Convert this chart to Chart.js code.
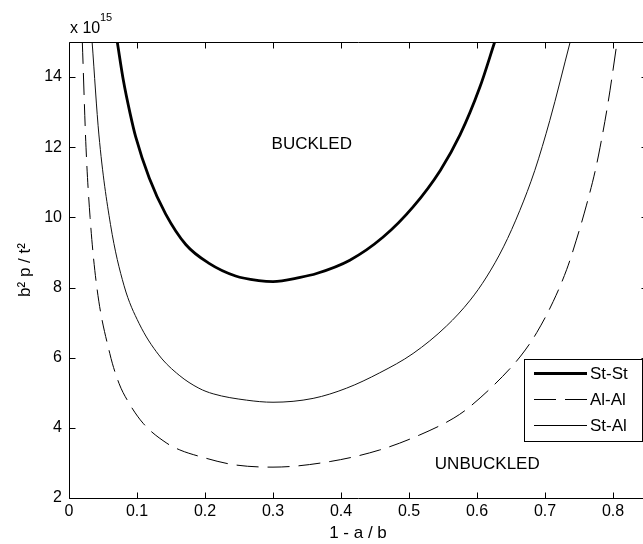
<!DOCTYPE html>
<html>
<head>
<meta charset="utf-8">
<script src="https://cdn.jsdelivr.net/npm/chart.js@4.4.1/dist/chart.umd.min.js"></script>
<style>
html,body{margin:0;padding:0;background:#fff;overflow:hidden}
#wrap{width:647px;height:544px}
</style>
</head>
<body>
<div id="wrap"><canvas id="chart"></canvas></div>
<script>

// axis ticks
const xTicks = [0, 0.1, 0.2, 0.3, 0.4, 0.5, 0.6, 0.7, 0.8];
const yTicks = [2, 4, 6, 8, 10, 12, 14];

// b^2 p / t^2 in units of 1e15, against 1 - a/b
const stStX = [0.071, 0.080, 0.090, 0.098, 0.118, 0.142, 0.172, 0.206, 0.245, 0.279, 0.300, 0.340, 0.364, 0.413, 0.462, 0.506, 0.546, 0.575, 0.604, 0.626];
const stStY = [15.0, 13.9, 12.95, 12.3, 11.12, 10.1, 9.22, 8.69, 8.33, 8.20, 8.17, 8.29, 8.40, 8.78, 9.44, 10.3, 11.34, 12.35, 13.7, 15.0];

const alAlX = [0.0196, 0.025, 0.031, 0.041, 0.060, 0.0735, 0.086, 0.109, 0.144, 0.163, 0.193, 0.242, 0.300, 0.384, 0.457, 0.516, 0.566, 0.590, 0.649, 0.671, 0.688, 0.712, 0.732, 0.746, 0.761, 0.774, 0.781, 0.793, 0.806];
const alAlY = [15.0, 12.0, 10.0, 8.0, 6.12, 5.27, 4.78, 4.13, 3.56, 3.37, 3.18, 2.95, 2.88, 3.04, 3.37, 3.80, 4.28, 4.61, 5.70, 6.22, 6.72, 7.60, 8.52, 9.35, 10.35, 11.34, 12.0, 13.3, 15.0];

const stAlX = [0.034, 0.044, 0.061, 0.081, 0.103, 0.132, 0.162, 0.191, 0.212, 0.261, 0.300, 0.359, 0.408, 0.457, 0.506, 0.555, 0.590, 0.614, 0.639, 0.663, 0.685, 0.707, 0.737];
const stAlY = [15.0, 12.35, 9.8, 8.05, 6.98, 6.08, 5.5, 5.13, 4.97, 4.79, 4.73, 4.84, 5.13, 5.57, 6.12, 6.90, 7.64, 8.30, 9.16, 10.2, 11.34, 12.76, 15.0];

const seriesNames = ['St-St', 'Al-Al', 'St-Al'];

function pts(xs, ys){
  return xs.map((x, i) => ({x: x, y: ys[i]}));
}

const FONT = 'Liberation Sans, Arial, Helvetica, sans-serif';

// box, inward ticks, text labels and the legend, matlab style
const frame = {
  id: 'frame',
  afterDatasetsDraw(chart){
    const {ctx, chartArea: a, scales: {x, y}} = chart;
    const L = Math.round(a.left) + 0.5, R = Math.round(a.right) + 0.5;
    const T = Math.round(a.top) + 0.5, B = Math.round(a.bottom) + 0.5;
    ctx.save();
    ctx.strokeStyle = '#000';
    ctx.lineWidth = 1;
    ctx.beginPath();
    ctx.rect(L, T, R - L, B - T);
    xTicks.forEach(v => {
      const p = Math.round(x.getPixelForValue(v)) + 0.5;
      ctx.moveTo(p, B); ctx.lineTo(p, B - 6);
      ctx.moveTo(p, T); ctx.lineTo(p, T + 6);
    });
    yTicks.forEach(v => {
      const p = Math.round(y.getPixelForValue(v)) + 0.5;
      ctx.moveTo(L, p); ctx.lineTo(L + 6, p);
      ctx.moveTo(R, p); ctx.lineTo(R - 6, p);
    });
    ctx.stroke();

    ctx.fillStyle = '#000';
    ctx.textBaseline = 'alphabetic';
    ctx.font = '16px ' + FONT;
    ctx.textAlign = 'left';
    ctx.fillText('x 10', 70, 33);
    ctx.font = '11px ' + FONT;
    ctx.fillText('15', 100, 21);

    ctx.font = '17px ' + FONT;
    ctx.textBaseline = 'middle';
    ctx.textAlign = 'center';
    ctx.fillText('BUCKLED', x.getPixelForValue(0.357), y.getPixelForValue(12.08));
    ctx.textAlign = 'left';
    ctx.fillText('UNBUCKLED', x.getPixelForValue(0.538), y.getPixelForValue(2.95));

    // legend
    ctx.fillStyle = '#fff';
    ctx.fillRect(524.5, 359.5, 118, 82);
    ctx.strokeRect(524.5, 359.5, 118, 82);
    ctx.font = '17px ' + FONT;
    ctx.fillStyle = '#000';
    chart.data.datasets.forEach((ds, i) => {
      const ly = 373 + i * 26;
      ctx.save();
      ctx.lineWidth = ds.borderWidth;
      ctx.setLineDash(ds.borderDash || []);
      ctx.beginPath();
      ctx.moveTo(534, ly + 0.5);
      ctx.lineTo(587, ly + 0.5);
      ctx.stroke();
      ctx.restore();
      ctx.fillText(ds.label, 590, ly + 1);
    });
    ctx.restore();
  }
};

const chart = new Chart(document.getElementById('chart'), {
  type: 'line',
  data: {
    datasets: [
      {label: seriesNames[0], data: pts(stStX, stStY), borderColor: '#000', borderWidth: 2.8},
      {label: seriesNames[1], data: pts(alAlX, alAlY), borderColor: '#000', borderWidth: 1, borderDash: [22, 9]},
      {label: seriesNames[2], data: pts(stAlX, stAlY), borderColor: '#111', borderWidth: 1}
    ]
  },
  options: {
    responsive: true,
    maintainAspectRatio: false,
    animation: false,
    layout: {padding: {top: 42, left: 0, right: 0, bottom: 0}},
    elements: {
      point: {radius: 0},
      line: {cubicInterpolationMode: 'monotone', fill: false}
    },
    plugins: {legend: {display: false}, tooltip: {enabled: false}},
    scales: {
      x: {
        type: 'linear', min: 0, max: 0.85,
        grid: {display: false, drawTicks: false},
        border: {display: false},
        afterBuildTicks: s => { s.ticks = xTicks.map(v => ({value: v})); },
        afterFit: s => { s.height = 46; },
        ticks: {color: '#000', font: {size: 16, family: FONT}, padding: 4, maxRotation: 0, callback: v => String(v)},
        title: {display: true, text: '1 - a / b', color: '#000', font: {size: 17, family: FONT}, padding: {top: 0, bottom: 0}}
      },
      y: {
        type: 'linear', min: 2, max: 15,
        grid: {display: false, drawTicks: false},
        border: {display: false},
        afterBuildTicks: s => { s.ticks = yTicks.map(v => ({value: v})); },
        afterFit: s => { s.width = 69; },
        ticks: {color: '#000', font: {size: 16, family: FONT}, padding: 7, callback: v => String(v)},
        title: {display: true, text: 'b\u00B2 p / t\u00B2', color: '#000', font: {size: 17, family: FONT}, padding: {top: 15, bottom: 0}}
      }
    }
  },
  plugins: [frame]
});
</script>
</body>
</html>
